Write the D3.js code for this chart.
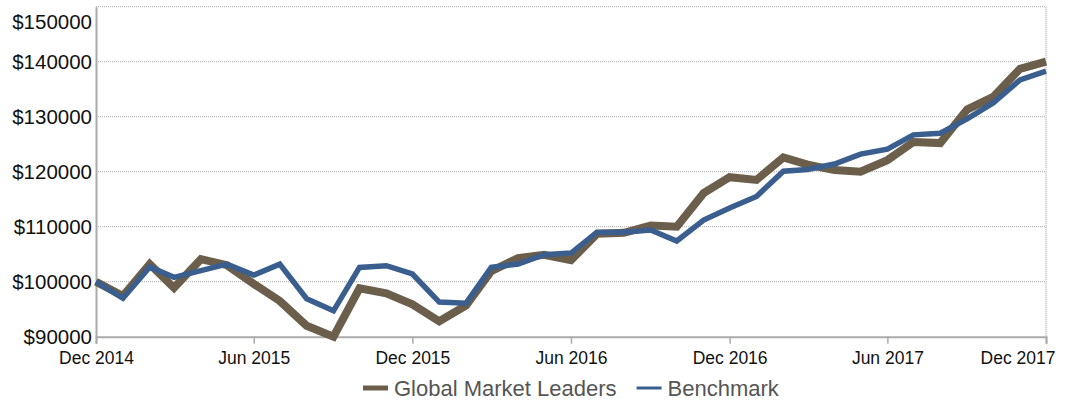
<html>
<head>
<meta charset="utf-8">
<script src="https://cdnjs.cloudflare.com/ajax/libs/d3/7.8.5/d3.min.js"></script>
<style>
  body { margin: 0; background: #fff; }
  text { font-family: "Liberation Sans", Arial, sans-serif; }
</style>
</head>
<body>
<div id="chart"></div>
<script>
// monthly values, Dec 2014 .. Dec 2017
var months = d3.range(37).map(function(i){ return new Date(2014, 11 + i, 1); });
var leaders = [100000, 97400, 103200, 98900, 104100, 103000, 99600, 96500, 92000, 90000,
               98800, 97900, 95900, 92800, 95700, 101900, 104300, 104900, 103900, 108700,
               108900, 110200, 110000, 116100, 119000, 118500, 122600, 121300, 120300, 120000,
               122100, 125400, 125200, 131300, 133600, 138700, 140000];
var benchmark = [100000, 97000, 102700, 100800, 102000, 103200, 101200, 103200, 96900, 94700,
                 102600, 102900, 101400, 96300, 96100, 102600, 103200, 104900, 105200, 109000,
                 109000, 109400, 107400, 111200, 113400, 115500, 120100, 120400, 121400, 123200,
                 124100, 126700, 127000, 129600, 132500, 136700, 138300];
var yTicks = [90000, 100000, 110000, 120000, 130000, 140000, 150000];
var xTicks = [new Date(2014, 11, 1), new Date(2015, 5, 1), new Date(2015, 11, 1),
              new Date(2016, 5, 1), new Date(2016, 11, 1), new Date(2017, 5, 1), new Date(2017, 11, 1)];
var seriesNames = ["Global Market Leaders", "Benchmark"];
var seriesColors = ["#6b5f4b", "#3a5e8e"];

var W = 1066, H = 400;
var plotLeft = 96, plotRight = 1046, plotTop = 6.7, plotBottom = 336.7;

var svg = d3.select("#chart").append("svg").attr("width", W).attr("height", H);

var x = d3.scaleTime().domain([months[0], months[36]]).range([plotLeft, plotRight]);
var y = d3.scaleLinear().domain([90000, 150000]).range([plotBottom, plotTop]);

// grid
svg.append("g").selectAll("line").data(yTicks.slice(1)).enter().append("line")
  .attr("x1", plotLeft).attr("x2", plotRight)
  .attr("y1", function(d){ return y(d); }).attr("y2", function(d){ return y(d); })
  .style("stroke", "#aaa").style("stroke-width", 1).style("stroke-dasharray", "1,1");
svg.append("line").attr("x1", plotRight).attr("x2", plotRight).attr("y1", plotTop).attr("y2", plotBottom)
  .style("stroke", "#bbb").style("stroke-width", 1.5).style("stroke-dasharray", "1,1");

// axes
var yAxis = d3.axisLeft(y).tickValues(yTicks).tickSize(0).tickPadding(4)
  .tickFormat(function(d){ return "$" + d; });
var gy = svg.append("g").attr("transform", "translate(" + plotLeft + ",0)").call(yAxis);
gy.select(".domain").style("stroke", "#aaa").style("stroke-width", 2);
gy.selectAll("text").style("font-size", "20.5px").style("fill", "#111");
// top label kept inside the canvas
gy.selectAll("text").filter(function(d){ return d == 150000; }).attr("dy", "1.05em");

var xAxis = d3.axisBottom(x).tickValues(xTicks).tickSize(7).tickPadding(8)
  .tickFormat(d3.timeFormat("%b %Y"));
var gx = svg.append("g").attr("transform", "translate(0," + plotBottom + ")").call(xAxis);
gx.select(".domain").style("stroke", "#aaa").style("stroke-width", 2);
gx.selectAll(".tick line").style("stroke", "#aaa").style("stroke-width", 1.5);
gx.selectAll("text").style("font-size", "17.5px").style("fill", "#111");
// last label pushed back inside the canvas
gx.selectAll("text").filter(function(d, i){ return i == xTicks.length - 1; })
  .attr("text-anchor", "end").attr("x", 9);

// lines
var line = d3.line().x(function(d, i){ return x(months[i]); }).y(function(d){ return y(d); });
svg.append("path").datum(leaders).attr("d", line)
  .style("fill", "none").style("stroke", seriesColors[0]).style("stroke-width", 8)
  .style("stroke-linejoin", "miter");
svg.append("path").datum(benchmark).attr("d", line)
  .style("fill", "none").style("stroke", seriesColors[1]).style("stroke-width", 5.5)
  .style("stroke-linejoin", "miter");

// legend
var lg = svg.append("g").attr("transform", "translate(0,388)");
var lx = 363;
seriesNames.forEach(function(name, i){
  lg.append("line").attr("x1", lx).attr("x2", lx + 25).attr("y1", 0).attr("y2", 0)
    .style("stroke", seriesColors[i]).style("stroke-width", i == 0 ? 5 : 3);
  var t = lg.append("text").attr("x", lx + 31).attr("y", 8)
    .style("font-size", "22px").style("fill", "#555").text(name);
  lx = lx + 31 + t.node().getComputedTextLength() + 20;
});
</script>
</body>
</html>
